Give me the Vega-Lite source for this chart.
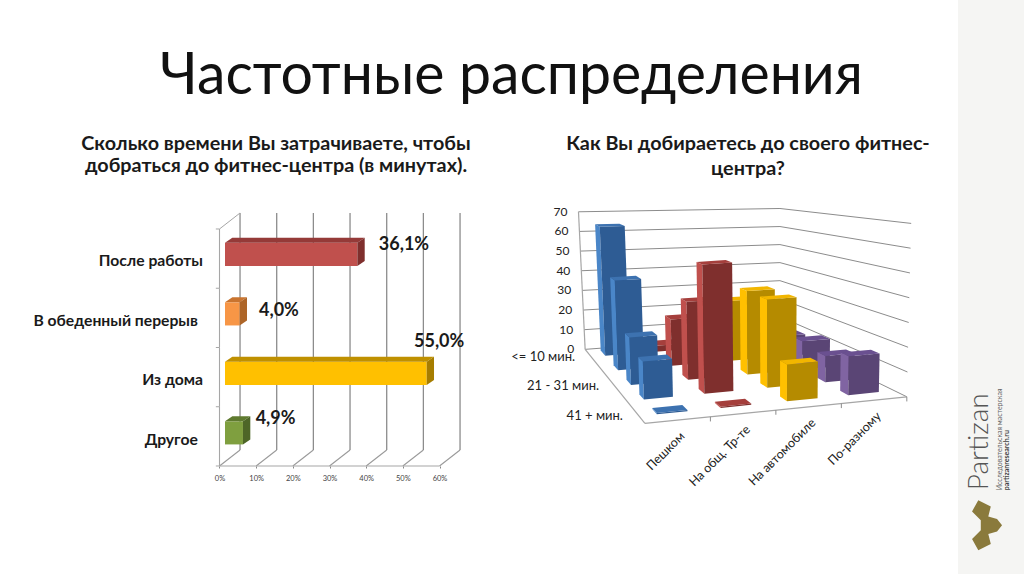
{"$schema":"https://vega.github.io/schema/vega-lite/v6.json","padding":0,"background":"white","bounds":"flush","spacing":0,"config":{"view":{"stroke":null},"font":"Lato"},
"datasets":{
"times":[{"cat":"После работы","share":36.1},{"cat":"В обеденный перерыв","share":4.0},{"cat":"Из дома","share":55.0},{"cat":"Другое","share":4.9}],
"pct":[{"tick":0},{"tick":10},{"tick":20},{"tick":30},{"tick":40},{"tick":50},{"tick":60}],
"bands":[{"b":0},{"b":1},{"b":2},{"b":3},{"b":4}],
"trips":[
{"dur":"<= 10 мин.","mode":"Пешком","value":64},{"dur":"<= 10 мин.","mode":"На общ. Тр-те","value":3},{"dur":"<= 10 мин.","mode":"На автомобиле","value":0},{"dur":"<= 10 мин.","mode":"По-разному","value":0},
{"dur":"11 - 20 мин.","mode":"Пешком","value":42},{"dur":"11 - 20 мин.","mode":"На общ. Тр-те","value":22},{"dur":"11 - 20 мин.","mode":"На автомобиле","value":29},{"dur":"11 - 20 мин.","mode":"По-разному","value":10},
{"dur":"21 - 31 мин.","mode":"Пешком","value":21},{"dur":"21 - 31 мин.","mode":"На общ. Тр-те","value":35},{"dur":"21 - 31 мин.","mode":"На автомобиле","value":38},{"dur":"21 - 31 мин.","mode":"По-разному","value":13},
{"dur":"31 - 40 мин.","mode":"Пешком","value":16},{"dur":"31 - 40 мин.","mode":"На общ. Тр-те","value":55},{"dur":"31 - 40 мин.","mode":"На автомобиле","value":38},{"dur":"31 - 40 мин.","mode":"По-разному","value":11.5},
{"dur":"41 + мин.","mode":"Пешком","value":0.5},{"dur":"41 + мин.","mode":"На общ. Тр-те","value":0.5},{"dur":"41 + мин.","mode":"На автомобиле","value":15},{"dur":"41 + мин.","mode":"По-разному","value":16}],
"levels":[{"k":0},{"k":10},{"k":20},{"k":30},{"k":40},{"k":50},{"k":60},{"k":70}],
"durs":[{"dur":"<= 10 мин.","r":0},{"dur":"21 - 31 мин.","r":2},{"dur":"41 + мин.","r":4}],
"modes":[{"mode":"Пешком","m":0},{"mode":"На общ. Тр-те","m":1},{"mode":"На автомобиле","m":2},{"mode":"По-разному","m":3}],
"brand":[{"t":"Partizan","p":0},{"t":"Исследовательская мастерская","p":1},{"t":"partizanresearch.ru","p":2}]
},
"hconcat":[
{"width":520,"height":574,
"title":{"text":["Сколько времени Вы затрачиваете,  чтобы","добраться до фитнес-центра (в минутах)."],"offset":-176,"dx":16,"anchor":"middle","fontSize":19.8,"fontWeight":"bold","font":"Lato","color":"#1a1a1a","lineHeight":22},
"layer":[
{"data":{"name":"pct"},"transform":[{"calculate":"datum.tick+5.6","as":"bx"},{"calculate":"0","as":"y0"},{"calculate":"0.27","as":"y1"}],"mark":{"type":"rule","color":"#9a9a9a","strokeWidth":1.1},"encoding":{"x":{"field":"tick","type":"quantitative","scale":{"domain":[-59.86,81.95],"nice":false,"zero":false},"axis":{"values":[0,10,20,30,40,50,60],"labelExpr":"datum.value+'%'","offset":-108,"domain":false,"grid":false,"ticks":true,"tickSize":2,"tickColor":"#888888","labelFontSize":7.5,"labelColor":"#444444","labelFont":"Lato","title":null,"labelPadding":6}},"x2":{"field":"bx"},"y":{"field":"y0","type":"quantitative","scale":{"domain":[-1.823,7.865],"nice":false,"zero":false},"axis":null},"y2":{"field":"y1"}}},
{"data":{"name":"pct"},"transform":[{"calculate":"datum.tick+5.6","as":"bx"},{"calculate":"0.27","as":"y0"},{"calculate":"4.27","as":"y1"}],"mark":{"type":"rule","color":"#8c8c8c","strokeWidth":1.3},"encoding":{"x":{"field":"bx","type":"quantitative"},"y":{"field":"y0","type":"quantitative"},"y2":{"field":"y1"}}},
{"data":{"name":"bands"},"transform":[{"filter":"datum.b<4"},{"calculate":"datum.b+1","as":"b2"},{"calculate":"0","as":"x0"}],"mark":{"type":"rule","color":"#a6a6a6","strokeWidth":1.1},"encoding":{"x":{"field":"x0","type":"quantitative"},"y":{"field":"b","type":"quantitative"},"y2":{"field":"b2"}}},
{"data":{"name":"bands"},"transform":[{"calculate":"-1","as":"x0"},{"calculate":"0","as":"x1"}],"mark":{"type":"rule","color":"#a6a6a6","strokeWidth":1},"encoding":{"x":{"field":"x0","type":"quantitative"},"x2":{"field":"x1"},"y":{"field":"b","type":"quantitative"}}},
{"data":{"name":"bands"},"transform":[{"filter":"datum.b==4"},{"calculate":"0","as":"x0"},{"calculate":"5.6","as":"x1"},{"calculate":"4.27","as":"y1"}],"mark":{"type":"rule","color":"#a6a6a6","strokeWidth":1},"encoding":{"x":{"field":"x0","type":"quantitative"},"x2":{"field":"x1"},"y":{"field":"b","type":"quantitative"},"y2":{"field":"y1"}}},
{"data":{"name":"pct"},"transform":[{"filter":"datum.tick==0"},{"calculate":"60","as":"x1"},{"calculate":"0","as":"y0"}],"mark":{"type":"rule","color":"#a6a6a6","strokeWidth":1.1},"encoding":{"x":{"field":"tick","type":"quantitative"},"x2":{"field":"x1"},"y":{"field":"y0","type":"quantitative"}}},
{"data":{"name":"times"},"transform":[
{"calculate":"indexof(['После работы','В обеденный перерыв','Из дома','Другое'],datum.cat)","as":"i"},
{"calculate":"3.376-datum.i*1.004","as":"yb"},
{"calculate":"[0,1,2]","as":"face"},{"flatten":["face"]},
{"calculate":"[0,1,2,3]","as":"corner"},{"flatten":["corner"]},
{"calculate":"[[1.5,1.5+datum.share,1.5+datum.share,1.5],[1.5,1.5+datum.share,3.5+datum.share,3.5],[1.5+datum.share,3.5+datum.share,3.5+datum.share,1.5+datum.share]][datum.face][datum.corner]","as":"px"},
{"calculate":"[[datum.yb,datum.yb,datum.yb+0.39,datum.yb+0.39],[datum.yb+0.39,datum.yb+0.39,datum.yb+0.475,datum.yb+0.475],[datum.yb,datum.yb+0.085,datum.yb+0.475,datum.yb+0.39]][datum.face][datum.corner]","as":"py"},
{"calculate":"datum.cat+'|'+(datum.face==0?'f':(datum.face==1?'t':'s'))","as":"shade"}],
"mark":{"type":"line","filled":true,"interpolate":"linear"},
"encoding":{"x":{"field":"px","type":"quantitative"},"y":{"field":"py","type":"quantitative"},"order":{"field":"corner","type":"quantitative"},"detail":{"field":"shade","type":"nominal"},
"color":{"field":"shade","type":"nominal","legend":null,"scale":{"domain":["После работы|f","После работы|t","После работы|s","В обеденный перерыв|f","В обеденный перерыв|t","В обеденный перерыв|s","Из дома|f","Из дома|t","Из дома|s","Другое|f","Другое|t","Другое|s"],"range":["#c0504d","#953a38","#7f2f2d","#f79646","#c9742f","#ad6528","#ffc000","#bf9000","#a67d00","#7f9f3f","#5f7a2f","#4e6627"]}}}},
{"data":{"name":"times"},"transform":[{"calculate":"indexof(['После работы','В обеденный перерыв','Из дома','Другое'],datum.cat)","as":"i"},{"calculate":"[-4.5,-5.9,-4.5,-5.9][datum.i]","as":"lx"},{"calculate":"3.46-datum.i*1.007","as":"ly"}],"mark":{"type":"text","align":"right","baseline":"middle","fontSize":15.7,"fontWeight":"bold","font":"Lato","color":"#1a1a1a"},"encoding":{"x":{"field":"lx","type":"quantitative"},"y":{"field":"ly","type":"quantitative"},"text":{"field":"cat"}}},
{"data":{"name":"times"},"transform":[{"calculate":"indexof(['После работы','В обеденный перерыв','Из дома','Другое'],datum.cat)","as":"i"},{"calculate":"datum.share+[14.2,12.2,4.9,10.4][datum.i]","as":"lx"},{"calculate":"[3.73,2.62,2.09,0.8][datum.i]","as":"ly"},{"calculate":"replace(format(datum.share,'.1f'),'.',',')+'%'","as":"lab"}],"mark":{"type":"text","align":"center","baseline":"middle","fontSize":18,"fontWeight":"bold","font":"Lato","color":"#1a1a1a"},"encoding":{"x":{"field":"lx","type":"quantitative"},"y":{"field":"ly","type":"quantitative"},"text":{"field":"lab"}}},
{"data":{"values":[{"heading":"Частотные распределения"}]},"transform":[{"calculate":"-16.2","as":"lx"},{"calculate":"6.57","as":"ly"}],"mark":{"type":"text","align":"left","baseline":"middle","fontSize":57.2,"font":"Lato","fontWeight":400,"color":"#111111"},"encoding":{"x":{"field":"lx","type":"quantitative"},"y":{"field":"ly","type":"quantitative"},"text":{"field":"heading"}}}
],"resolve":{"scale":{"color":"independent"}}},
{"width":438,"height":574,
"title":{"text":["Как Вы добираетесь до своего фитнес-","центра?"],"offset":-179,"dx":9,"anchor":"middle","fontSize":19.8,"fontWeight":"bold","font":"Lato","color":"#1a1a1a","lineHeight":25},
"layer":[
{"data":{"name":"levels"},"transform":[{"calculate":"19.8-0.0222*datum.k","as":"xl"},{"calculate":"48.6+0.634*datum.k","as":"yl"},{"calculate":"65.1","as":"xb"},{"calculate":"53.3+0.582*datum.k","as":"yb"}],"mark":{"type":"rule","color":"#8c8c8c","strokeWidth":1},"encoding":{"x":{"field":"xl","type":"quantitative","scale":{"domain":[4.651,106.5],"nice":false,"zero":false},"axis":null},"x2":{"field":"xb"},"y":{"field":"yl","type":"quantitative","scale":{"domain":[-23.87,161.3],"nice":false,"zero":false},"axis":null},"y2":{"field":"yb"}}},
{"data":{"name":"levels"},"transform":[{"calculate":"65.1","as":"xb"},{"calculate":"53.3+0.582*datum.k","as":"yb"},{"calculate":"94.6+0.01446*datum.k","as":"xr"},{"calculate":"33.3+0.799*datum.k","as":"yr"}],"mark":{"type":"rule","color":"#8c8c8c","strokeWidth":1},"encoding":{"x":{"field":"xb","type":"quantitative"},"x2":{"field":"xr"},"y":{"field":"yb","type":"quantitative"},"y2":{"field":"yr"}}},
{"data":{"name":"levels"},"transform":[{"filter":"datum.k==0"},{"calculate":"19.8","as":"x0"},{"calculate":"48.6","as":"y0"},{"calculate":"33.7","as":"x1"},{"calculate":"24.7","as":"y1"}],"mark":{"type":"rule","color":"#a6a6a6","strokeWidth":1.2},"encoding":{"x":{"field":"x0","type":"quantitative"},"x2":{"field":"x1"},"y":{"field":"y0","type":"quantitative"},"y2":{"field":"y1"}}},
{"data":{"name":"levels"},"transform":[{"filter":"datum.k==0"},{"calculate":"33.7","as":"x0"},{"calculate":"24.7","as":"y0"},{"calculate":"94.6","as":"x1"},{"calculate":"33.3","as":"y1"}],"mark":{"type":"rule","color":"#a6a6a6","strokeWidth":1.2},"encoding":{"x":{"field":"x0","type":"quantitative"},"x2":{"field":"x1"},"y":{"field":"y0","type":"quantitative"},"y2":{"field":"y1"}}},
{"data":{"name":"levels"},"transform":[{"filter":"datum.k==0"},{"calculate":"19.8","as":"x0"},{"calculate":"48.6","as":"y0"},{"calculate":"18.25","as":"x1"},{"calculate":"93","as":"y1"}],"mark":{"type":"rule","color":"#a6a6a6","strokeWidth":1.2},"encoding":{"x":{"field":"x0","type":"quantitative"},"x2":{"field":"x1"},"y":{"field":"y0","type":"quantitative"},"y2":{"field":"y1"}}},
{"data":{"name":"modes"},"transform":[{"calculate":"33.7+60.9*(datum.m+1)/4","as":"tx"},{"calculate":"24.7+8.6*(datum.m+1)/4","as":"ty"},{"calculate":"datum.ty-1.5","as":"ty2"}],"mark":{"type":"rule","color":"#8c8c8c","strokeWidth":1},"encoding":{"x":{"field":"tx","type":"quantitative"},"y":{"field":"ty","type":"quantitative"},"y2":{"field":"ty2"}}},
{"data":{"name":"trips"},"transform":[
{"filter":"datum.value>0"},
{"calculate":"indexof(['Пешком','На общ. Тр-те','На автомобиле','По-разному'],datum.mode)","as":"m"},
{"calculate":"indexof(['<= 10 мин.','11 - 20 мин.','21 - 31 мин.','31 - 40 мин.','41 + мин.'],datum.dur)","as":"r"},
{"calculate":"[0.13,0.38,0.64,0.88][datum.m]-0.06","as":"u0"},{"calculate":"[0.13,0.38,0.64,0.88][datum.m]+0.06","as":"u1"},
{"calculate":"(datum.r+0.5)/5-0.07","as":"v0"},{"calculate":"(datum.r+0.5)/5","as":"v1"},
{"calculate":"[0,1,2]","as":"face"},{"flatten":["face"]},
{"calculate":"[0,1,2,3]","as":"corner"},{"flatten":["corner"]},
{"calculate":"[[datum.u0,datum.u0,datum.u0,datum.u0],[datum.u0,datum.u1,datum.u1,datum.u0],[datum.u0,datum.u1,datum.u1,datum.u0]][datum.face][datum.corner]","as":"cu"},
{"calculate":"[[datum.v0,datum.v1,datum.v1,datum.v0],[datum.v1,datum.v1,datum.v1,datum.v1],[datum.v0,datum.v0,datum.v1,datum.v1]][datum.face][datum.corner]","as":"cv"},
{"calculate":"[[0,0,datum.value,datum.value],[0,0,datum.value,datum.value],[datum.value,datum.value,datum.value,datum.value]][datum.face][datum.corner]","as":"cl"},
{"calculate":"19.8+13.9*datum.cv","as":"lx"},{"calculate":"65.1+29.5*datum.cv","as":"rx"},
{"calculate":"48.6-23.9*datum.cv","as":"ly"},{"calculate":"53.3-20*datum.cv","as":"ry"},
{"calculate":"datum.lx+(datum.rx-datum.lx)*datum.cu","as":"bx"},
{"calculate":"datum.ly+(datum.ry-datum.ly)*datum.cu","as":"by"},
{"calculate":"(0.634+0.196*datum.cv)*(1-datum.cu)+(0.582+0.217*datum.cv)*datum.cu","as":"s"},
{"calculate":"datum.bx+(datum.bx-65.1)*0.00049*datum.cl","as":"px"},
{"calculate":"datum.by+datum.s*datum.cl","as":"py"},
{"calculate":"datum.mode+'|'+datum.face","as":"shade"},
{"calculate":"datum.dur+'|'+datum.mode+'|'+datum.face","as":"piece"}],
"mark":{"type":"line","filled":true,"interpolate":"linear"},
"encoding":{"x":{"field":"px","type":"quantitative"},"y":{"field":"py","type":"quantitative"},"order":{"field":"corner","type":"quantitative"},"detail":{"field":"piece","type":"nominal"},
"color":{"field":"shade","type":"nominal","legend":null,"scale":{"domain":["Пешком|0","Пешком|1","Пешком|2","На общ. Тр-те|0","На общ. Тр-те|1","На общ. Тр-те|2","На автомобиле|0","На автомобиле|1","На автомобиле|2","По-разному|0","По-разному|1","По-разному|2"],"range":["#4a86c8","#2e5c94","#3d72b0","#c0504d","#7f2f2d","#a53f3c","#ffc000","#b58b00","#f2b600","#8064a2","#5a4575","#6a5090"]}}}},
{"data":{"name":"levels"},"transform":[{"calculate":"19.8-0.0222*datum.k","as":"xl"},{"calculate":"48.6+0.634*datum.k","as":"yl"}],"mark":{"type":"text","align":"right","baseline":"middle","dx":-11,"fontSize":12,"font":"Lato","color":"#222222"},"encoding":{"x":{"field":"xl","type":"quantitative"},"y":{"field":"yl","type":"quantitative"},"text":{"field":"k","type":"quantitative"}}},
{"data":{"name":"durs"},"transform":[{"calculate":"(datum.r+0.5)/5","as":"v"},{"calculate":"19.8+13.9*datum.v","as":"lx"},{"calculate":"48.6-23.9*datum.v","as":"ly"}],"mark":{"type":"text","align":"right","baseline":"middle","dx":-16,"fontSize":13,"font":"Lato","color":"#222222"},"encoding":{"x":{"field":"lx","type":"quantitative"},"y":{"field":"ly","type":"quantitative"},"text":{"field":"dur"}}},
{"data":{"name":"modes"},"transform":[{"calculate":"(datum.m+0.5)/4","as":"u"},{"calculate":"33.7+60.9*datum.u","as":"lx"},{"calculate":"24.7+8.6*datum.u","as":"ly"}],"mark":{"type":"text","align":"right","baseline":"middle","angle":-45,"dx":-6.5,"dy":13.4,"fontSize":12.5,"font":"Lato","color":"#222222"},"encoding":{"x":{"field":"lx","type":"quantitative"},"y":{"field":"ly","type":"quantitative"},"text":{"field":"mode"}}}
]},
{"width":66,"height":574,"view":{"fill":"#f5f5f3","stroke":null},
"layer":[
{"data":{"name":"brand"},"transform":[{"filter":"datum.p==0"},{"calculate":"0.33","as":"bx"},{"calculate":"0.146","as":"by"}],"mark":{"type":"text","align":"left","baseline":"middle","angle":270,"font":"Lato","fontSize":28,"fontWeight":300,"color":"#555555"},"encoding":{"x":{"field":"bx","type":"quantitative","scale":{"domain":[0,1],"nice":false},"axis":null},"y":{"field":"by","type":"quantitative","scale":{"domain":[0,1],"nice":false},"axis":null},"text":{"field":"t"}}},
{"data":{"name":"brand"},"transform":[{"filter":"datum.p==1"},{"calculate":"0.64","as":"bx"},{"calculate":"0.146","as":"by"}],"mark":{"type":"text","align":"left","baseline":"middle","angle":270,"font":"Lato","fontSize":7,"color":"#666666"},"encoding":{"x":{"field":"bx","type":"quantitative"},"y":{"field":"by","type":"quantitative"},"text":{"field":"t"}}},
{"data":{"name":"brand"},"transform":[{"filter":"datum.p==2"},{"calculate":"0.74","as":"bx"},{"calculate":"0.146","as":"by"}],"mark":{"type":"text","align":"left","baseline":"middle","angle":270,"font":"Lato","fontSize":7,"fontWeight":"bold","color":"#444444"},"encoding":{"x":{"field":"bx","type":"quantitative"},"y":{"field":"by","type":"quantitative"},"text":{"field":"t"}}},
{"data":{"values":[{"logo":"Partizan"}]},"transform":[{"calculate":"0.44","as":"bx"},{"calculate":"0.085","as":"by"}],"mark":{"type":"point","filled":true,"opacity":1,"color":"#8a7a3c","size":2500,"shape":"M-.35,-1 L-.6,-.55 L-.25,-.2 L-.25,.2 L-.6,.55 L-.35,1 L.15,.75 L.05,.35 L.4,.25 L.6,0 L.4,-.25 L.05,-.35 L.15,-.75 Z"},"encoding":{"x":{"field":"bx","type":"quantitative"},"y":{"field":"by","type":"quantitative"}}}
]}
]}
